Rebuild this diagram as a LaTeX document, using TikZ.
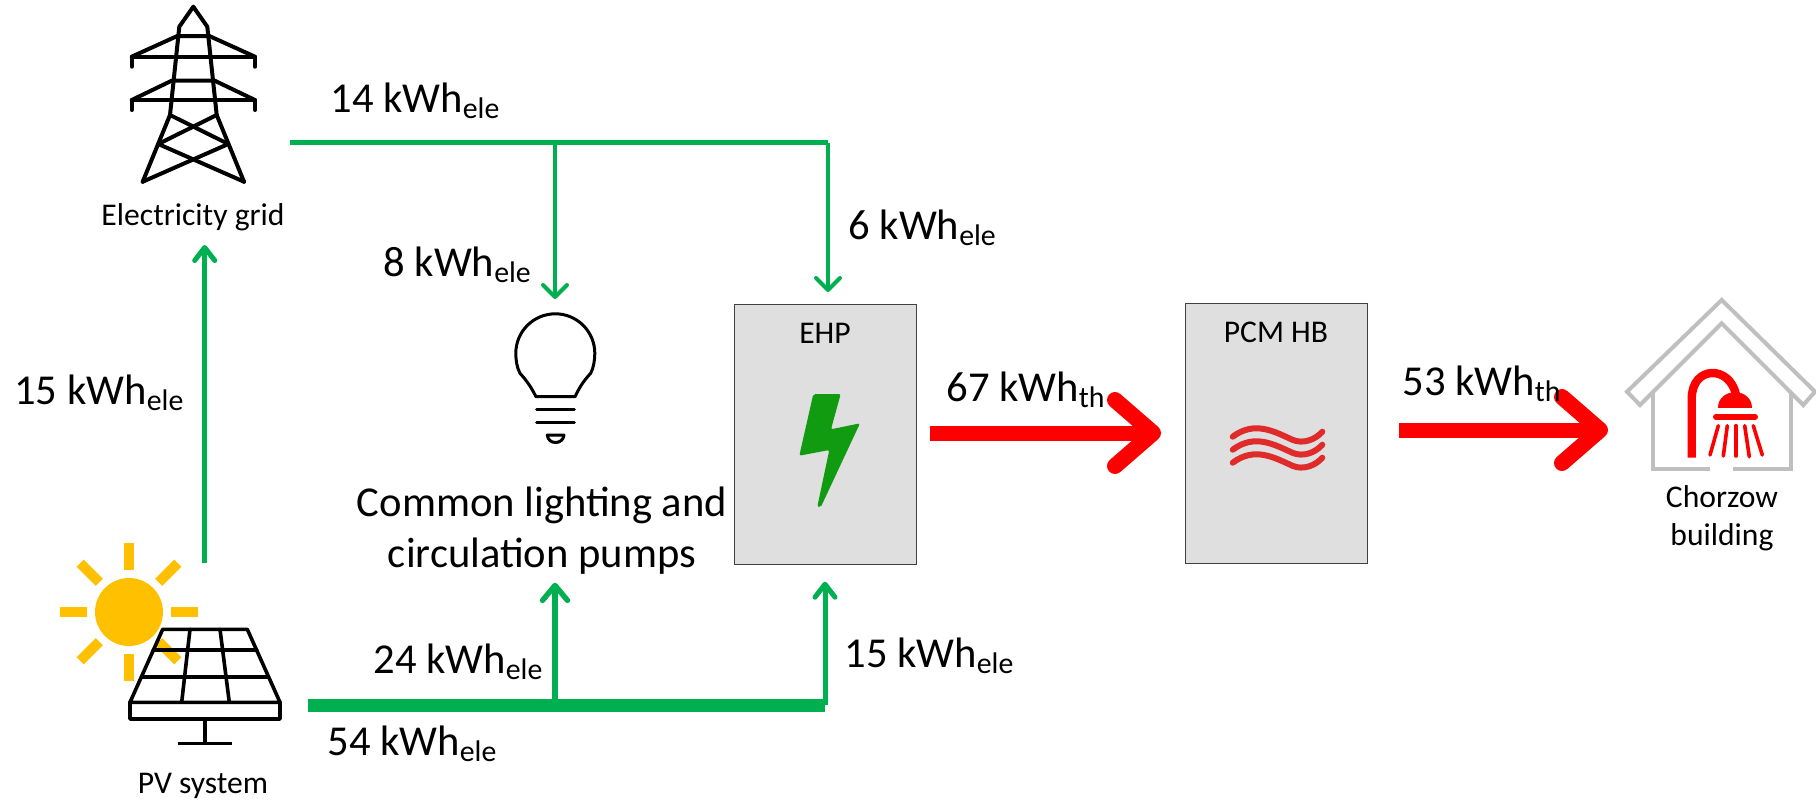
\documentclass[tikz,border=0pt]{standalone}
\usepackage{fontspec}
\setmainfont{Carlito}
\usetikzlibrary{arrows.meta,calc}
\definecolor{flowgreen}{HTML}{00B050}
\definecolor{flowred}{HTML}{FF0000}
\definecolor{sunc}{HTML}{FFC000}
\definecolor{boltc}{HTML}{109B10}
\definecolor{wavec}{HTML}{E02B2B}
\definecolor{boxc}{HTML}{DFDFDF}
\definecolor{housec}{HTML}{BFBFBF}
\tikzset{
  x=0.5pt,y=-0.5pt,
  big/.style={font=\fontsize{21.3}{25}\selectfont,text=black,inner sep=0pt},
  flow/.style={big,anchor=base west},
  small/.style={font=\fontsize{15.8}{19}\selectfont,text=black,inner sep=0pt,anchor=base},
  ico/.style={draw=black,line width=2pt,line join=round,line cap=round},
  unit/.style={draw=black!75,fill=boxc,line width=0.5pt,anchor=north west,inner sep=0pt},
  gthin/.style={draw=flowgreen,line width=2pt,-{Straight Barb[round,length=6pt,width=12pt,line width=2pt]}},
  gline/.style={draw=flowgreen,line width=2.3pt},
  gthick/.style={draw=flowgreen,line width=6.5pt},
  gleft/.style={draw=flowgreen,line width=2.5pt,-{Straight Barb[round,length=6.5pt,width=10pt,line width=2.5pt]}},
  gup/.style={draw=flowgreen,line width=2.7pt,-{Straight Barb[round,length=7.5pt,width=12.5pt,line width=2.7pt]}},
  redarrow/.style={draw=flowred,line width=7.5pt,-{Straight Barb[round,length=19pt,width=33pt,line width=8pt]}},
  ray/.style={draw=sunc,line width=5pt},
  wave/.style={draw=wavec,line width=3pt,line cap=round},
  housel/.style={draw=housec,line width=2pt},
  spray/.style={draw=flowred,line width=1.8pt,line cap=round},
}
\newcommand{\kwh}[2]{#1 kWh\textsubscript{#2}}
\begin{document}
\begin{tikzpicture}
\useasboundingbox (0,0) rectangle (1816,799);
% tower
\draw[ico] (142.7,181.7) -- (170,115) -- (179.3,26.7) -- (193.3,6.7) -- (207.3,26.7) -- (216.7,115) -- (244,181.7);
\draw[ico] (131.7,66.7) -- (131.7,56.7) -- (255,56.7) -- (255,66.7);
\draw[ico] (131.7,56.7) -- (177.3,36) -- (209.3,36) -- (255,56.7);
\draw[ico] (131.7,110) -- (131.7,100) -- (255,100) -- (255,110);
\draw[ico] (131.7,100) -- (171.7,80.7) -- (214.7,80.7) -- (255,100);
\draw[ico] (170,115) -- (228.3,144) -- (142.7,181.7);
\draw[ico] (216.7,115) -- (158.3,144) -- (244,181.7);
\node[small] (gridlabel) at (193,225) {Electricity grid};
% sun
\coordinate (suncentre) at (129,612);
\fill[sunc] (suncentre) circle[radius=17pt];
\foreach \a in {0,45,...,315}{
  \draw[ray] ($(suncentre)+(\a:21pt)$) -- ($(suncentre)+(\a:34.5pt)$);
}
% pv panel
\draw[ico,line width=1.8pt] (162.7,629.3) -- (247.3,629.3) -- (280,702.3) -- (130,702.3) -- cycle;
\draw[ico,line width=1.8pt] (130,702.3) -- (130,719) -- (280,719) -- (280,702.3);
\draw[ico,line width=1.8pt] (190,629.3) -- (181.7,702.3);
\draw[ico,line width=1.8pt] (220,629.3) -- (229.3,702.3);
\draw[ico,line width=1.8pt] (153.3,650) -- (256.7,650);
\draw[ico,line width=1.8pt] (141.5,676.7) -- (268.5,676.7);
\draw[ico,line width=1.8pt,line cap=butt] (205,719) -- (205,743.3);
\draw[ico,line width=1.8pt,line cap=butt] (178.3,743.3) -- (231.7,743.3);
\node[small] (pvlabel) at (203,793) {PV system};
% bulb
\draw[ico,line width=1.5pt] (536,396.7) .. controls (530,385) and (526,380) .. (520,373.3) .. controls (517,368) and (515.8,360) .. (515.8,353.3) .. controls (515.8,331.5) and (533.5,313.8) .. (555.3,313.8) .. controls (577.1,313.8) and (594.8,331.5) .. (594.8,353.3) .. controls (594.8,360) and (593.6,368) .. (590.6,373.3) .. controls (584.6,380) and (580.6,385) .. (575,396.7) -- cycle;
\draw[ico,line width=1.5pt] (536.7,409.3) -- (574.3,409.3);
\draw[ico,line width=1.5pt] (536.7,422.7) -- (574.3,422.7);
\draw[ico,line width=1.5pt] (547.3,435) .. controls (548,445) and (563,445) .. (564,435) -- cycle;
\node[big,anchor=base] (lamps) at (542,516) {Common lighting and};
\node[big,anchor=base] (pumps) at (542,567) {circulation pumps};
% units
\node[unit,minimum width=91pt,minimum height=130pt] (ehp) at (734,304) {};
\node[small] (ehplabel) at (825,343) {EHP};
\fill[boltc,rounded corners=1pt] (813.3,394) -- (840.7,394) -- (831,429.3) -- (860,423.3) -- (820.7,507.3) -- (817.3,506.7) -- (829.3,450) -- (799.3,455.7) -- cycle;
\node[unit,minimum width=91pt,minimum height=130pt] (pcm) at (1185,303) {};
\node[small] (pcmlabel) at (1276,342) {PCM HB};
\foreach \d in {0,13,26}{
  \draw[wave] (1232.7,436.7+\d) .. controls (1255,420+\d) and (1275,432+\d) .. (1293,440+\d) .. controls (1303,444+\d) and (1315,440+\d) .. (1322.3,431.7+\d);
}
% house
\draw[housel,line join=miter] (1721.7,300) -- (1627,391.7) -- (1640,405) -- (1721.7,323.3) -- (1803.3,405) -- (1815,391.7) -- cycle;
\draw[housel] (1710,469.3) -- (1653.3,469.3) -- (1653.3,392);
\draw[housel] (1733.3,469.3) -- (1791,469.3) -- (1791,392);
\draw[draw=flowred,line width=4.2pt] (1691.7,457.7) -- (1691.7,399) .. controls (1691.7,365) and (1730,365) .. (1736,395);
\fill[flowred] (1718.3,408.3) .. controls (1718.3,387) and (1752.3,387) .. (1752.3,408.3) -- cycle;
\draw[draw=flowred,line width=3pt,line cap=round] (1716,416.7) -- (1755,416.7);
\draw[spray] (1718.3,425.7) -- (1710,455);
\draw[spray] (1727.3,425.7) -- (1723.3,456);
\draw[spray] (1736,425.7) -- (1736,456);
\draw[spray] (1744.7,425.7) -- (1749.3,456.7);
\draw[spray] (1753.3,425.7) -- (1762.3,455);
\node[small] (chorzow) at (1722,507) {Chorzow};
\node[small] (building) at (1722,545) {building};
% connectors
\coordinate (gridout) at (290,142.7);
\coordinate (gridj1) at (555,142.7);
\coordinate (gridj2) at (828,142.7);
\coordinate (bulbin) at (555,299);
\coordinate (ehpin) at (828,292);
\draw[gline] (gridout) -- (gridj1) -- (gridj2);
\draw[gthin] (gridj1) -- (bulbin);
\draw[gthin] (gridj2) -- (ehpin);
\coordinate (pvup) at (204.7,563);
\coordinate (gridin) at (204.7,245);
\draw[gleft] (pvup) -- (gridin);
\coordinate (pvout) at (308,705);
\coordinate (pvj1) at (555,705);
\coordinate (pvj2) at (825,705);
\coordinate (lampin) at (555,582.7);
\coordinate (ehpinb) at (825,581.7);
\draw[gthick] (pvout) -- (pvj2);
\draw[gup] (pvj1) -- (lampin);
\draw[gleft] (pvj2) -- (ehpinb);
\coordinate (ehpout) at (930,433);
\coordinate (pcmin) at (1161,433);
\coordinate (pcmout) at (1399,430);
\coordinate (housein) at (1608,430);
\draw[redarrow] (ehpout) -- (pcmin);
\draw[redarrow] (pcmout) -- (housein);
% flow labels
\node[flow] (l14) at (330,112) {\kwh{14}{ele}};
\node[flow] (l8) at (383,276) {\kwh{8}{ele}};
\node[flow] (l6) at (848,239) {\kwh{6}{ele}};
\node[flow] (l15a) at (14,404) {\kwh{15}{ele}};
\node[flow] (l24) at (373,673) {\kwh{24}{ele}};
\node[flow] (l54) at (327,755) {\kwh{54}{ele}};
\node[flow] (l15b) at (844,667) {\kwh{15}{ele}};
\node[flow] (l67) at (946,401) {\kwh{67}{th}};
\node[flow] (l53) at (1402,395) {\kwh{53}{th}};
\end{tikzpicture}
\end{document}
